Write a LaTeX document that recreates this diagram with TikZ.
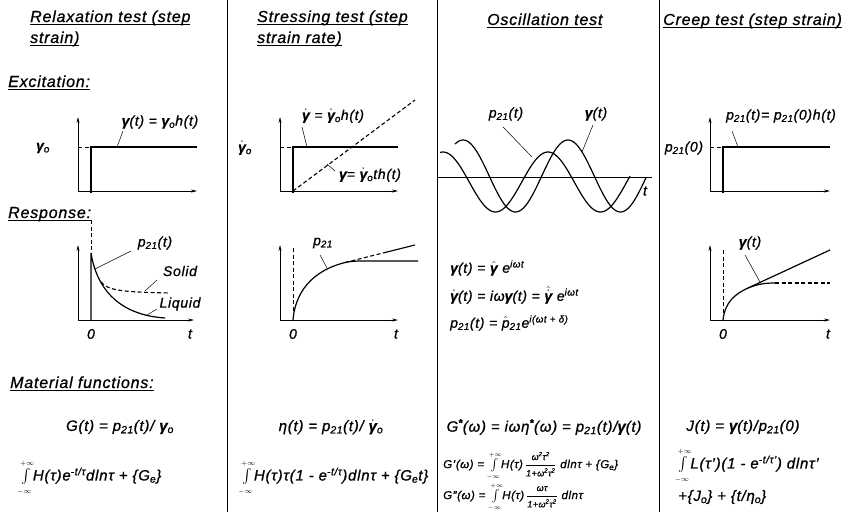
\documentclass[tikz,border=0pt]{standalone}
\usepackage{amsmath}
\usepackage{fontspec}
\setmainfont{Liberation Sans}[LetterSpace=5,FakeBold=0.9]
\usetikzlibrary{arrows.meta}
\newcommand\gm{\textbf{γ}}
\newcommand\gmd{\mbox{$\dot{\text{\gm}}$}}
\newcommand\gmh{\mbox{$\hat{\text{\gm}}$}}
\newcommand\gmhd{\mbox{$\hat{\dot{\text{\gm}}}$}}
\newcommand\sbs[1]{\textsubscript{#1}}
\newcommand\sps[1]{\textsuperscript{#1}}
\newcommand\Int{$\int\limits_{\scriptscriptstyle-\infty}^{\scriptscriptstyle+\infty}$}
\newcommand\fr[2]{$\dfrac{\text{\fontsize{9}{10}\selectfont #1}}{\text{\fontsize{9}{10}\selectfont #2}}$}
\newcommand\ul[1]{\setbox0\hbox{#1}\rlap{\rule[-2.4pt]{\wd0}{0.7pt}}\box0}
\begin{document}
\begin{tikzpicture}[x=1pt,y=-1pt,
  every node/.style={inner sep=0pt,font=\itshape},
  ttl/.style={anchor=base west,font=\fontsize{16}{19}\selectfont\itshape},
  sec/.style={anchor=base west,font=\fontsize{16}{19}\selectfont\itshape},
  lbl/.style={font=\fontsize{14}{16}\selectfont\itshape},
  eq/.style={font=\fontsize{15}{18}\selectfont\itshape},
  eqo/.style={anchor=west,font=\fontsize{14}{17}\selectfont\itshape},
  eqs/.style={anchor=west,font=\fontsize{11.5}{14}\selectfont\itshape},
  ax/.style={line width=0.7pt,-{Stealth[length=6pt,width=3pt]}},
  crv/.style={line width=1.2pt},
  dsh/.style={line width=0.8pt,dash pattern=on 4pt off 2.5pt},
  ldr/.style={line width=0.5pt},
  divl/.style={line width=0.8pt}]
\useasboundingbox (0,0) rectangle (855,512);
% column dividers
\draw[divl] (227,0) -- (227,512);
\draw[divl] (437,0) -- (437,512);
\draw[divl] (659,0) -- (659,512);
% titles
\node[ttl] (t1a) at (30,22) {\ul{Relaxation test (step}};
\node[ttl] (t1b) at (30,43) {\ul{strain)}};
\node[ttl] (t2a) at (257,22) {\ul{Stressing test (step}};
\node[ttl] (t2b) at (257,43) {\ul{strain rate)}};
\node[ttl] (t3) at (487,25) {\ul{Oscillation test}};
\node[ttl] (t4) at (663,25) {\ul{Creep test (step strain)}};
% section labels
\node[sec] (s1) at (8,87) {\ul{Excitation:}};
\node[sec] (s2) at (8,218) {\ul{Response:}};
\node[sec] (s3) at (10,388) {\ul{Material functions:}};

% ===== column 1 excitation
\draw[ax] (78,191) -- (78,117);
\draw[ax] (78,191) -- (197,191);
\draw[crv] (91,193) -- (91,147) -- (197,147);
\draw[dsh] (78,147) -- (91,147);
\node[lbl] (g0) at (43,148) {\gm\sbs{o}};
\node[lbl] (e1) at (160,122) {\gm(t) = \gm\sbs{o}h(t)};
\draw[ldr] (123,131) -- (117,147);
% column 1 response
\draw[ax] (78,320) -- (78,245);
\draw[ax] (78,320) -- (194,320);
\draw[dsh] (91,220) -- (91,253);
\draw[crv] (91,320) -- (91,253) .. controls (97,290) and (120,315) .. (165,318);
\draw[dsh,line width=1.1pt] (101,282) .. controls (108,290) and (118,292) .. (170,293);
\node[lbl] (r1) at (155,243) {p\sbs{21}(t)};
\draw[ldr] (131,251) -- (95,269);
\node[lbl] (sol) at (180,271) {Solid};
\draw[ldr] (157,280) -- (145,291);
\node[lbl] (liq) at (180,304) {Liquid};
\draw[ldr] (157,309) -- (147,315);
\node[lbl] (z1) at (91,334) {0};
\node[lbl] (tt1) at (190,334) {t};

% ===== column 2 excitation
\draw[ax] (280,191) -- (280,117);
\draw[ax] (280,191) -- (398,191);
\draw[crv] (293,193) -- (293,147) -- (398,147);
\draw[dsh] (280,147) -- (293,147);
\draw[dsh,line width=1.1pt] (293,191) -- (415,100);
\node[lbl] (g0d) at (245,148) {\gmd\sbs{o}};
\node[lbl] (e2) at (333,116) {\gmd\ = \gmd\sbs{o}h(t)};
\draw[ldr] (302,127) -- (307,147);
\node[lbl] (e2b) at (370,175) {\gm = \gmd\sbs{o}th(t)};
\draw[ldr] (327,164) -- (335,171);
% column 2 response
\draw[ax] (280,320) -- (280,245);
\draw[ax] (280,320) -- (398,320);
\draw[dsh] (293,248) -- (293,320);
\draw[crv] (293,320) .. controls (296,285) and (320,268.75) .. (345,262.5);
\draw[crv] (345,262.5) .. controls (350,261.3) and (355,261) .. (362,261) -- (418,261);
\draw[dsh,line width=1.1pt] (345,262.5) -- (385,252.5);
\draw[crv] (385,252.5) -- (415,245);
\node[lbl] (r2) at (323,243) {p\sbs{21}};
\draw[ldr] (320,255) -- (327,268);
\node[lbl] (z2) at (293,334) {0};
\node[lbl] (tt2) at (396,334) {t};

% ===== column 3 oscillation
\draw[line width=0.6pt] (437,177) -- (652,177);
\draw[crv,domain=440:630,samples=120,smooth] plot (\x,{182-30*cos(3.428571*(\x-443))});
\draw[crv,domain=455:646,samples=120,smooth] plot (\x,{176-36*cos(3.428571*(\x-463))});
\node[lbl] (pl) at (506,114) {p\sbs{21}(t)};
\draw[ldr] (503,127) -- (532,157);
\node[lbl] (gl) at (596,114) {\gm (t)};
\draw[ldr] (593,125) -- (582,152);
\node[lbl] (tl) at (645,191) {t};
\node[eqo] (q1) at (450,268) {\gm(t) = \gmh\ e\sps{iωt}};
\node[eqo] (q2) at (450,295) {\gmd(t) = iω\gm(t) = \gmhd\ e\sps{iωt}};
\node[eqo] (q3) at (450,323) {p\sbs{21}(t) = \mbox{$\hat{\text{p}}$}\sbs{21}e\sps{i(ωt + δ)}};

% ===== column 4 excitation
\draw[ax] (710,191) -- (710,117);
\draw[ax] (710,191) -- (830,191);
\draw[crv] (723,193) -- (723,147) -- (830,147);
\draw[dsh] (710,147) -- (723,147);
\node[lbl] (p0) at (684,148) {p\sbs{21}(0)};
\node[lbl] (e4) at (781,116) {p\sbs{21}(t)= p\sbs{21}(0)h(t)};
\draw[ldr] (732,131) -- (738,147);
% column 4 response
\draw[ax] (710,320) -- (710,245);
\draw[ax] (710,320) -- (830,320);
\draw[dsh] (723,250) -- (723,320);
\draw[crv] (723,320) .. controls (725,302) and (735,294) .. (748,288) -- (830,250);
\draw[crv] (748,288) .. controls (758,284) and (765,283) .. (775,283);
\draw[dsh,line width=1.1pt] (775,283) -- (830,283);
\node[lbl] (r4) at (750,243) {\gm(t)};
\draw[ldr] (745,255) -- (760,282);
\node[lbl] (z4) at (723,334) {0};
\node[lbl] (tt4) at (828,334) {t};

% ===== material functions
\node[eq] (m1) at (120,427) {G(t) = p\sbs{21}(t)/ \gm\sbs{o}};
\node[eq] (i1) at (90,478) {\Int H(τ)e\sps{-t/τ}dlnτ + \{G\sbs{e}\}};
\node[eq] (m2) at (331,427) {η(t) = p\sbs{21}(t)/ \gmd\sbs{o}};
\node[eq] (i2) at (334,478) {\Int H(τ)τ(1 - e\sps{-t/τ})dlnτ + \{G\sbs{e}t\}};
\node[eq] (m3) at (544,427) {G\sps{\textbf{*}}(ω) = iωη\sps{\textbf{*}}(ω) = p\sbs{21}(t)/\gm(t)};
\node[eqs] (i3a) at (443,466) {G'(ω) = \Int H(τ)\,\fr{ω\sps{2}τ\sps{2}}{1+ω\sps{2}τ\sps{2}} dlnτ + \{G\sbs{e}\}};
\node[eqs] (i3b) at (443,497) {G''(ω) = \Int H(τ)\,\fr{ωτ}{1+ω\sps{2}τ\sps{2}} dlnτ};
\node[eq] (m4) at (743,427) {J(t) = \gm(t)/p\sbs{21}(0)};
\node[eq,anchor=west] (i4a) at (676,466) {\Int L(τ')(1 - e\sps{-t/τ'}) dlnτ'};
\node[eq,anchor=west] (i4b) at (678,497) {+\{J\sbs{o}\} + \{t/η\sbs{o}\}};
\end{tikzpicture}
\end{document}
